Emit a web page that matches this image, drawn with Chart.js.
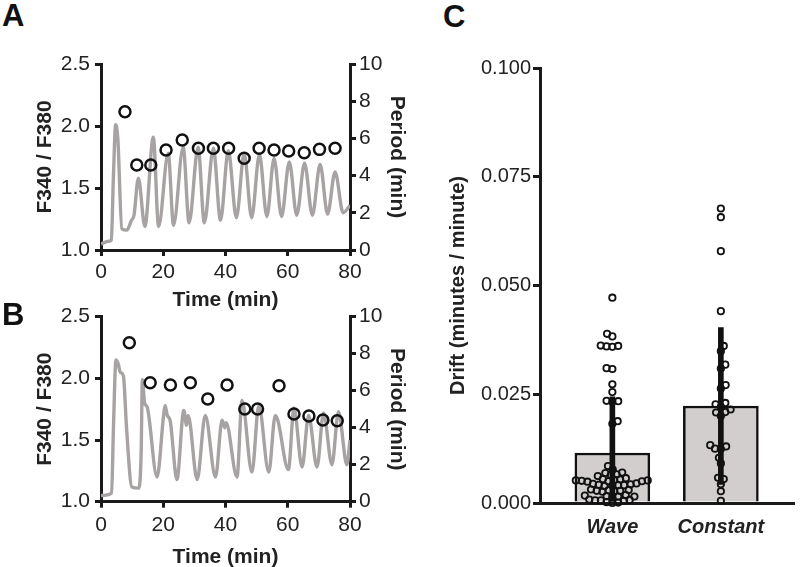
<!DOCTYPE html>
<html><head><meta charset="utf-8">
<script src="https://cdn.jsdelivr.net/npm/chart.js@4.4.1/dist/chart.umd.min.js"></script>
<style>
html,body{margin:0;padding:0;background:#fff;}
body{width:800px;height:567px;position:relative;overflow:hidden;font-family:"Liberation Sans",Arial,sans-serif;}
canvas{position:absolute;}
.lbl{position:absolute;font-weight:bold;font-size:31px;line-height:31px;color:#111;}
</style></head><body>
<canvas id="cA" width="420" height="280" style="left:0;top:40px;width:420px;height:280px"></canvas>
<canvas id="cB" width="420" height="271" style="left:0;top:296px;width:420px;height:271px"></canvas>
<canvas id="cC" width="380" height="527" style="left:420px;top:40px;width:380px;height:527px"></canvas>
<div class="lbl" style="left:2px;top:0px">A</div>
<div class="lbl" style="left:2px;top:299px">B</div>
<div class="lbl" style="left:443px;top:1px">C</div>
<script>
// ---- Panel A: F340/F380 trace and period ----
const timeA  = [0, 2.5, 3.3, 4.0, 4.7, 5.4, 6.7, 8.3, 9.8, 10.6, 12.0, 14.1, 16.8, 18.5, 21.6, 23.3, 26.4, 28.3, 31.2, 33.2, 36.1, 38.4, 40.9, 43.5, 46.0, 48.4, 50.9, 53.3, 55.6, 58.0, 60.5, 62.9, 65.4, 67.9, 70.4, 72.8, 75.2, 77.8, 80];
const ratioA = [1.05, 1.07, 1.08, 1.60, 2.01, 1.90, 1.17, 1.16, 1.24, 1.28, 1.58, 1.19, 1.91, 1.19, 1.78, 1.20, 1.83, 1.22, 1.83, 1.22, 1.82, 1.24, 1.80, 1.26, 1.78, 1.26, 1.77, 1.27, 1.74, 1.27, 1.71, 1.28, 1.70, 1.28, 1.69, 1.29, 1.63, 1.30, 1.36];
const periodTimeA = [7.7, 11.5, 16.0, 20.9, 26.1, 31.3, 36.1, 41.0, 46.0, 50.8, 55.6, 60.3, 65.3, 70.2, 75.2];
const periodA     = [7.43, 4.57, 4.57, 5.38, 5.91, 5.47, 5.47, 5.47, 4.93, 5.47, 5.38, 5.32, 5.23, 5.41, 5.47];

// ---- Panel B ----
const timeB  = [0, 3.4, 4.0, 4.8, 5.5, 6.2, 7.2, 8.2, 9.9, 12.2, 12.9, 13.3, 14.0, 14.8, 18.0, 20.2, 20.6, 21.3, 22.2, 24.4, 26.6, 27.5, 28.0, 30.9, 33.5, 36.8, 38.9, 39.8, 40.2, 43.7, 45.3, 48.5, 50.7, 53.9, 56.0, 56.8, 60.2, 62.0, 64.6, 66.7, 69.4, 71.5, 74.2, 76.3, 79.0, 80];
const ratioB = [1.05, 1.07, 1.60, 2.15, 2.12, 2.05, 2.02, 1.60, 1.12, 1.11, 1.40, 1.99, 1.80, 1.77, 1.20, 1.72, 1.78, 1.70, 1.66, 1.18, 1.74, 1.62, 1.70, 1.18, 1.70, 1.20, 1.66, 1.60, 1.64, 1.20, 1.82, 1.24, 1.78, 1.24, 1.70, 1.66, 1.26, 1.76, 1.28, 1.70, 1.28, 1.72, 1.30, 1.73, 1.30, 1.50];
const periodTimeB = [9.1, 15.8, 22.3, 28.7, 34.3, 40.5, 46.2, 50.3, 57.2, 62.0, 66.8, 71.3, 75.9];
const periodB     = [8.59, 6.43, 6.31, 6.43, 5.55, 6.31, 5.01, 5.01, 6.27, 4.74, 4.63, 4.42, 4.38];

// ---- Panel C: drift ----
const groups = ['Wave', 'Constant'];
const driftWave = [0.0472, 0.0389, 0.0383, 0.0362, 0.0361, 0.0360, 0.0359, 0.0310, 0.0308, 0.0273, 0.0255,
  0.0235, 0.0234, 0.0233, 0.0188, 0.0182,
  0.0085, 0.0077, 0.0070, 0.0069, 0.0066, 0.0064, 0.0062,
  0.0057, 0.0055, 0.0054, 0.0053, 0.0052, 0.0052, 0.0051, 0.0050, 0.0050, 0.0049,
  0.0045, 0.0044, 0.0043, 0.0042, 0.0041, 0.0041, 0.0040, 0.0039,
  0.0031, 0.0030, 0.0029, 0.0028, 0.0028, 0.0027, 0.0026,
  0.0018, 0.0017, 0.0016, 0.0015, 0.0015, 0.0014,
  0.0008, 0.0007, 0.0006, 0.0006, 0.0005,
  0.0002, 0.0001, 0.0000];
const driftConstant = [0.0677, 0.0657, 0.0579, 0.0441, 0.0361, 0.0349, 0.0318, 0.0309, 0.0271, 0.0263,
  0.0230, 0.0227, 0.0221, 0.0215, 0.0208, 0.0209, 0.0200, 0.0133, 0.0130, 0.0125, 0.0124,
  0.0104, 0.0091, 0.0058, 0.0055, 0.0043, 0.0027, 0.0005];
const barMeans = [0.0115, 0.0223];
const barSD    = [0.0129, 0.0180];

Chart.defaults.font.family = "'Liberation Sans', Arial, sans-serif";
Chart.defaults.color = '#222';
const INK = '#1a1a1a';

function axisBase(extra) {
  return Object.assign({
    grid: {drawOnChartArea: false, drawTicks: true, tickLength: 6, color: INK, lineWidth: 3},
    border: {display: true, color: INK, width: 3}
  }, extra);
}

function tracePanel(id, t, r, pt, p, L) {
  const lineData = t.map((x, i) => ({x: x, y: r[i]}));
  const ptData = pt.map((x, i) => ({x: x, y: p[i]}));
  return new Chart(document.getElementById(id), {
    type: 'line',
    data: {datasets: [
      {data: ptData, yAxisID: 'y2', showLine: false, pointRadius: 5.5, pointBorderWidth: 2.5,
       pointBorderColor: '#111', pointBackgroundColor: 'rgba(0,0,0,0)', order: 1, clip: false},
      {data: lineData, yAxisID: 'y', borderColor: '#a8a3a3', borderWidth: 3.4, pointRadius: 0,
       cubicInterpolationMode: 'monotone', fill: false, order: 2}
    ]},
    options: {
      responsive: false, animation: false, events: [],
      layout: {padding: {top: L.top, left: 0, right: 0, bottom: 0}},
      plugins: {legend: {display: false}, tooltip: {enabled: false}},
      scales: {
        x: axisBase({type: 'linear', min: 0, max: 80,
          ticks: {stepSize: 20, font: {size: 21}, padding: L.xPad},
          title: {display: true, text: 'Time (min)', font: {size: 21, weight: 'bold'}, padding: {top: 0, bottom: L.xTitlePad}},
          afterFit: s => { s.height = L.xH; }}),
        y: axisBase({type: 'linear', position: 'left', min: 1, max: 2.5,
          ticks: {stepSize: 0.5, font: {size: 21}, padding: 5, callback: v => v.toFixed(1)},
          title: {display: true, text: 'F340 / F380', font: {size: 21, weight: 'bold'}, padding: {top: 33, bottom: 0}},
          afterFit: s => { s.width = 101; }}),
        y2: axisBase({type: 'linear', position: 'right', min: 0, max: 10,
          ticks: {stepSize: 2, font: {size: 21}, padding: 3},
          title: {display: true, text: 'Period (min)', font: {size: 21, weight: 'bold'}, padding: {top: 11, bottom: 0}},
          afterFit: s => { s.width = 70; }})
      }
    }
  });
}

tracePanel('cA', timeA, ratioA, periodTimeA, periodA, {top: 24, xH: 70, xPad: 4, xTitlePad: 7.4});
tracePanel('cB', timeB, ratioB, periodTimeB, periodB, {top: 20.7, xH: 65.3, xPad: 5, xTitlePad: -2.6});

// beeswarm layout of the dots (computed from the values): each dot takes the free
// horizontal position closest to the category centre
const pxPerX = 111, pxPerY = 4350, D = 6.0;
function swarm(values, cx) {
  const placed = [];
  values.slice().sort((a, b) => a - b).forEach((v, idx) => {
    const py = v * pxPerY;
    const blocks = [];
    placed.forEach(q => {
      const dy = py - q.py;
      if (Math.abs(dy) < D) { const w = Math.sqrt(D * D - dy * dy); blocks.push([q.px - w, q.px + w]); }
    });
    const cands = [0];
    blocks.forEach(b => { cands.push(b[0], b[1]); });
    const sgn = idx % 2 ? 1 : -1;
    cands.sort((a, b) => (Math.abs(a) - Math.abs(b)) || (sgn * (b - a)));
    let off = 0;
    for (const c of cands) {
      if (blocks.every(b => c <= b[0] + 1e-6 || c >= b[1] - 1e-6)) { off = c; break; }
    }
    placed.push({px: off, py: py, v: v});
  });
  return placed.map(q => ({x: cx + q.px / pxPerX, y: q.v}));
}

const dots = swarm(driftWave, 1).concat(swarm(driftConstant, 2));
new Chart(document.getElementById('cC'), {
  type: 'bar',
  data: {datasets: [
    {type: 'bar', data: barMeans.map((m, i) => ({x: i + 1, y: [Math.max(0, m - barSD[i]), m + barSD[i]]})),
     backgroundColor: '#111', borderWidth: 0, barThickness: 5, grouped: false, order: 1},
    {type: 'scatter', data: dots, pointRadius: 3.2, pointBorderWidth: 1.8, pointBorderColor: '#111',
     pointBackgroundColor: 'rgba(0,0,0,0)', order: 2, clip: false},
    {type: 'bar', data: barMeans.map((m, i) => ({x: i + 1, y: m})),
     backgroundColor: '#d1cecd', borderColor: '#111', borderWidth: 2.5, barThickness: 75, grouped: false, order: 3}
  ]},
  options: {
    responsive: false, animation: false, events: [],
    layout: {padding: {top: 28, left: 0, right: 0, bottom: 0}},
    plugins: {legend: {display: false}, tooltip: {enabled: false}},
    scales: {
      x: {type: 'linear', min: 0.333, max: 2.676, offset: false,
        grid: {drawOnChartArea: false, drawTicks: false, offset: false},
        border: {display: true, color: INK, width: 3},
        ticks: {font: {size: 20, weight: 'bold', style: 'italic'}, padding: 12, callback: v => groups[v - 1]},
        afterBuildTicks: s => { s.ticks = groups.map((g, i) => ({value: i + 1})); },
        afterFit: s => { s.height = 64; }},
      y: {type: 'linear', min: 0, max: 0.1,
        grid: {drawOnChartArea: false, drawTicks: true, tickLength: 7, color: INK, lineWidth: 3},
        border: {display: true, color: INK, width: 3},
        ticks: {stepSize: 0.025, font: {size: 20}, padding: 2, callback: v => v.toFixed(3)},
        title: {display: true, text: 'Drift (minutes / minute)', font: {size: 20, weight: 'bold'}, padding: {top: 26, bottom: 0}},
        afterFit: s => { s.width = 120; }}
    }
  }
});
</script>
</body></html>
